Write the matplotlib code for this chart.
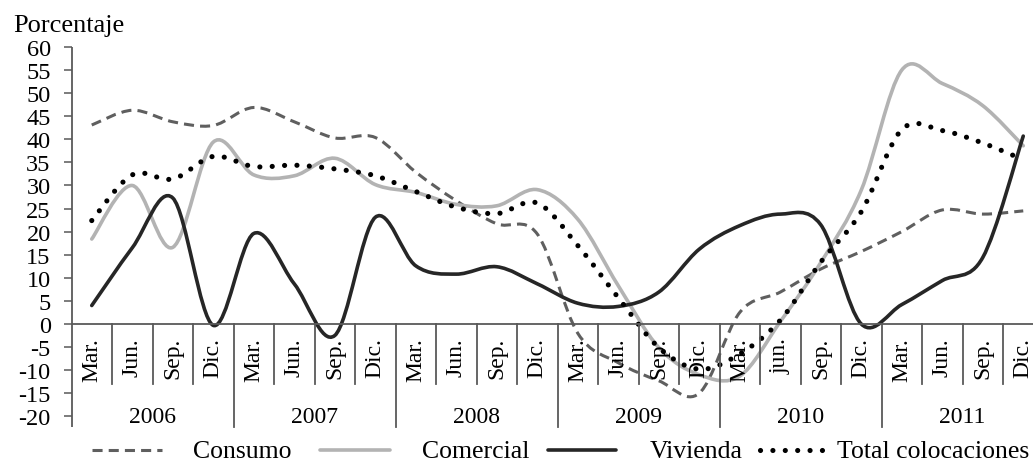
import numpy as np
import matplotlib
matplotlib.use('Agg')
import matplotlib.pyplot as plt
from matplotlib.path import Path
from matplotlib.patches import PathPatch
from matplotlib.lines import Line2D

plt.rcParams['font.family'] = ['Liberation Serif', 'DejaVu Serif']
plt.rcParams['axes.unicode_minus'] = False

# --- Data (quarterly, % y/y)
years    = ['2006', '2007', '2008', '2009', '2010', '2011']
quarters = ['Mar.', 'Jun.', 'Sep.', 'Dic.']
quarters_2010 = ['Mar.', 'jun.', 'Sep.', 'Dic.']

consumo   = [43.1, 46.3, 43.8, 43.0, 46.9, 43.8, 40.3, 40.4, 32.9, 26.7, 21.7, 19.5,
             -2.0, -8.4, -12.3, -15.0, 2.5, 6.9, 11.9, 15.7, 20.0, 24.7, 23.8, 24.5]
comercial = [18.4, 30.0, 16.6, 39.4, 32.3, 32.1, 35.9, 30.2, 28.5, 25.9, 25.6, 29.1,
             22.7, 8.3, -5.1, -11.0, -11.3, 0.5, 13.3, 29.0, 55.0, 52.1, 47.3, 38.6]
vivienda  = [4.0, 16.5, 27.3, -0.3, 19.6, 8.7, -2.5, 23.1, 12.6, 10.8, 12.4, 8.7,
             4.5, 3.8, 6.9, 16.2, 21.3, 23.8, 21.5, 0.0, 4.2, 9.4, 14.4, 40.7]
total     = [22.4, 32.3, 31.4, 36.3, 34.1, 34.4, 33.6, 32.1, 28.7, 25.3, 23.9, 26.2,
             17.0, 5.7, -5.1, -9.8, -6.5, 0.8, 13.4, 24.3, 42.1, 41.9, 39.2, 35.6]
names = ['Consumo', 'Comercial', 'Vivienda', 'Total colocaciones']


def smooth_path(y):
    """ Bezier path through the points (Excel-like smoothed line) """
    x = np.arange(len(y), dtype=float)
    P = np.column_stack([x, np.asarray(y, dtype=float)])
    n = len(P)
    verts = [P[0]]
    codes = [Path.MOVETO]
    for i in range(n - 1):
        prev = P[i - 1] if i > 0 else P[i]
        nxt = P[i + 2] if i + 2 < n else P[i + 1]
        c1 = P[i] + (P[i + 1] - prev) / 6.
        c2 = P[i + 1] - (nxt - P[i]) / 6.
        verts += [c1, c2, P[i + 1]]
        codes += [Path.CURVE4] * 3
    return Path(verts, codes)


W, H = 1033, 464
fig = plt.figure(figsize=(W / 100, H / 100), dpi=100)
ax = fig.add_axes([71.5 / W, (H - 417.3) / H, 972 / W, 369.3 / H])

axcol = '#595959'
styles = [
    dict(edgecolor='#5f5f5f', linewidth=2.2, linestyle=(0, (3.3, 2.0)), capstyle='butt'),
    dict(edgecolor='#b3b3b3', linewidth=2.6, linestyle='-', capstyle='round'),
    dict(edgecolor='#262626', linewidth=2.6, linestyle='-', capstyle='round'),
    dict(edgecolor='black', linewidth=3.7, linestyle=(0, (0.01, 2.4)), capstyle='round'),
]
for vals, st in zip([consumo, comercial, vivienda, total], styles):
    ax.add_patch(PathPatch(smooth_path(vals), fill=False, joinstyle='round', **st))

ax.set_xlim(-0.5, 23.5)
ax.set_ylim(-20, 60)
for s in ['top', 'right', 'bottom', 'left']:
    ax.spines[s].set_visible(False)

# y axis
ax.set_yticks(np.arange(-20, 61, 5))
ax.tick_params(axis='y', direction='out', length=6, width=1.1, color=axcol,
               labelsize=17.5, pad=9)
ax.set_xticks([])
y_low = -22.3
ax.plot([-0.5, -0.5], [60, y_low], color=axcol, lw=1.3, clip_on=False, solid_capstyle='butt')

# category axis at 0
ax.axhline(0, color=axcol, lw=1.3)
n = len(consumo)
for k in range(1, n + 1):
    xb = k - 0.5
    ybot = y_low if k % 4 == 0 else -13.0
    ax.plot([xb, xb], [0, ybot], color=axcol, lw=1.3, clip_on=False)

for iy, yr in enumerate(years):
    labs = quarters_2010 if yr == '2010' else quarters
    for iq, q in enumerate(labs):
        ax.text(4 * iy + iq, -2.8, q, rotation=90, ha='center', va='top',
                fontsize=17, clip_on=False)
    ax.text(4 * iy + 1.5, -20, yr, ha='center', va='center', fontsize=17)

fig.text(13 / W, (H - 31.7) / H, 'Porcentaje', fontsize=19, va='baseline', ha='left')

# legend (drawn by hand to follow the reference spacing)
leg_x = [(92, 162, 193), (320, 390, 422), (548, 616, 650), (760, 822, 837)]
ly = (H - 451) / H
for (x0, x1, xt), st, name in zip(leg_x, styles, names):
    fig.add_artist(Line2D([x0 / W, x1 / W], [ly, ly], transform=fig.transFigure,
                          color=st['edgecolor'], linewidth=st['linewidth'],
                          linestyle=st['linestyle'], dash_capstyle=st['capstyle'],
                          solid_capstyle=st['capstyle']))
    fig.text(xt / W, (H - 458) / H, name, fontsize=18.5, va='baseline', ha='left')

fig.savefig('out.png', dpi=100)
